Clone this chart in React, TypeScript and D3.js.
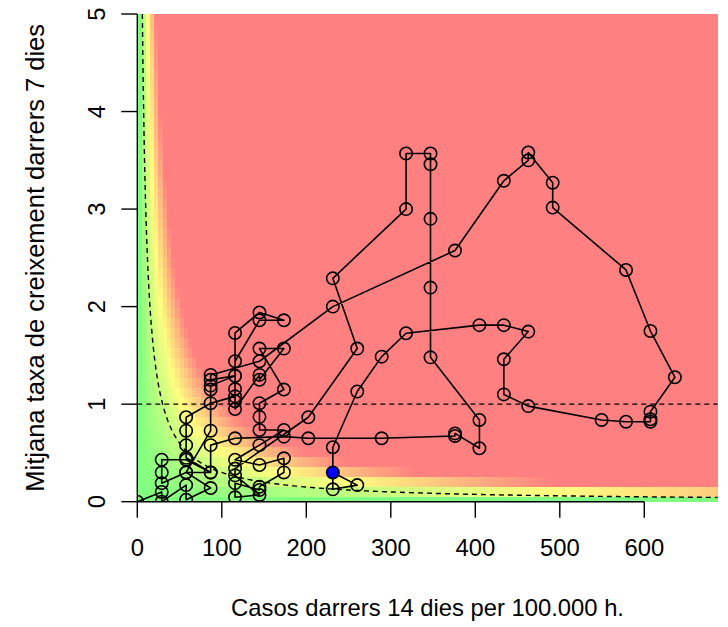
import React from 'react';
import * as d3 from 'd3';

// 14-day incidence per 100,000 inhabitants (x) and mean 7-day growth rate (y), in time order
const incidence14 = [
  0, 28.9, 28.9, 57.8, 57.8, 86.8, 57.8, 28.9, 28.9, 28.9, 57.8, 86.8, 57.8,
  57.8, 57.8, 57.8, 86.8, 115.7, 115.7, 115.7, 144.6, 173.5, 144.6, 115.7, 115.7, 115.7, 115.7,
  144.6, 144.6, 173.5, 144.6, 173.5, 144.6, 144.6, 144.6, 173.5, 144.6, 115.7, 144.6, 173.5, 173.5,
  144.6, 144.6, 115.7, 115.7, 144.6, 115.7, 115.7,
  202.4, 260.3, 231.4, 318.1, 318.1, 347.0, 347.0, 347.0, 347.0, 347.0, 404.9, 404.9, 376.0, 376.0,
  289.2, 202.4, 173.5, 115.7, 86.8, 86.8, 57.8, 86.8,
  86.8, 86.8, 115.7, 86.8, 86.8, 144.6, 231.4, 376.0, 433.8, 462.7, 462.7, 491.6, 491.6, 578.4,
  607.3, 636.2, 607.3, 607.3, 607.3, 578.4, 549.5, 462.7, 433.8, 433.8, 462.7, 433.8, 404.9,
  318.1, 289.2, 260.3, 231.4, 231.4, 260.3, 231.4,
];
const rho7 = [
  0.0, 0.1, 0.0, 0.17, 0.02, 0.14, 0.3, 0.19, 0.3, 0.43, 0.43, 0.3, 0.45,
  0.58, 0.728, 0.866, 1.01, 1.08, 1.29, 1.73, 1.94, 1.86, 1.86, 1.44, 1.155, 1.03, 0.95,
  1.3, 1.25, 1.57, 1.57, 1.15, 1.01, 0.87, 0.735, 0.735, 0.58, 0.43, 0.376, 0.445, 0.3,
  0.154, 0.12, 0.19, 0.045, 0.069, 0.27, 0.34,
  0.866, 1.57, 2.29, 3.0, 3.57, 3.57, 3.46, 2.9, 2.195, 1.48, 0.838, 0.548, 0.7, 0.674,
  0.65, 0.65, 0.667, 0.65, 0.58, 0.3, 0.3, 0.728,
  1.15, 1.19, 1.29, 1.25, 1.3, 1.44, 2.0, 2.575, 3.29, 3.5, 3.58, 3.27, 3.015, 2.376,
  1.75, 1.276, 0.923, 0.845, 0.82, 0.82, 0.838, 0.98, 1.1, 1.46, 1.744, 1.81, 1.81,
  1.727, 1.487, 1.13, 0.558, 0.127, 0.17, 0.3,
];

const xTicks = [0, 100, 200, 300, 400, 500, 600];
const yTicks = [0, 1, 2, 3, 4, 5];
const xMax = 687;
const yMax = 5;
const gridRows = 50; // background rows of the risk image
const gridColWidth = 5; // background cell width (cases per 100.000 h.)
const epgStops = [0, 50, 100];
const epgColors = ['#80FF80', '#FFFF80', '#FF8080'];
const epgThreshold = 30;
const refGrowth = 1;

const FONT = "'Liberation Sans', Arial, Helvetica, sans-serif";

export default function App() {
  const W = 728;
  const H = 627;
  const left = 137.3, right = 717.8, top = 14, bottom = 501.7;
  const x = d3.scaleLinear().domain([0, xMax]).range([left, right]);
  const y = d3.scaleLinear().domain([0, yMax]).range([bottom, top]);
  const color = d3
    .scaleLinear<string>()
    .domain(epgStops)
    .range(epgColors)
    .interpolate(d3.interpolateRgb)
    .clamp(true);
  const zMax = epgStops[epgStops.length - 1];

  const step = yMax / (gridRows - 1);
  const rows = d3.range(gridRows).map((i) => {
    const yc = i * step;
    const y0 = Math.max(0, yc - step / 2);
    const y1 = Math.min(yMax, yc + step / 2);
    const stops: { off: number; col: string }[] = [];
    let xs = 0;
    while (xs < xMax) {
      const z = xs * yc;
      const col = color(z);
      const xe = Math.min(xMax, xs + gridColWidth);
      if (z >= zMax) {
        stops.push({ off: xs / xMax, col });
        stops.push({ off: 1, col });
        break;
      }
      stops.push({ off: xs / xMax, col });
      stops.push({ off: xe / xMax, col });
      xs = xe;
    }
    return { i, yc, y0, y1, stops };
  });

  const curvePts = d3.range(0, 301).map((i) => {
    const xv = (epgThreshold / yMax) * Math.pow(xMax / (epgThreshold / yMax), i / 300);
    return [xv, epgThreshold / xv] as [number, number];
  });
  const curve = d3
    .line<[number, number]>()
    .x((d) => x(d[0]))
    .y((d) => y(d[1]))(curvePts);

  const pts = incidence14.map((v, i) => [v, rho7[i]] as [number, number]);
  const traj = d3
    .line<[number, number]>()
    .x((d) => x(d[0]))
    .y((d) => y(d[1]))(pts);
  const last = pts[pts.length - 1];

  const lw = 1.6;
  const pr = 6.2;

  return (
    <svg
      width={W}
      height={H}
      viewBox={`0 0 ${W} ${H}`}
      style={{ position: 'absolute', left: 0, top: 0, background: '#fff' }}
      fontFamily={FONT}
    >
      <defs>
        <clipPath id="plotclip">
          <rect x={left} y={top} width={right - left} height={bottom - top} />
        </clipPath>
        {rows.map((r) => (
          <linearGradient
            key={r.i}
            id={`row${r.i}`}
            gradientUnits="userSpaceOnUse"
            x1={x(0)}
            x2={x(xMax)}
            y1={0}
            y2={0}
          >
            {r.stops.map((s, j) => (
              <stop key={j} offset={s.off} stopColor={s.col} />
            ))}
          </linearGradient>
        ))}
      </defs>
      <g>
        {rows.map((r) => (
          <rect
            key={r.i}
            x={left}
            y={y(r.y1)}
            width={right - left}
            height={y(r.y0) - y(r.y1) + 0.3}
            fill={`url(#row${r.i})`}
            shapeRendering="crispEdges"
          />
        ))}
      </g>
      <g clipPath="url(#plotclip)">
        <line
          x1={left}
          x2={right}
          y1={y(refGrowth)}
          y2={y(refGrowth)}
          stroke="#000"
          strokeWidth={1.4}
          strokeDasharray="5,4"
        />
        <path d={curve || ''} fill="none" stroke="#000" strokeWidth={1.4} strokeDasharray="5,4" />
        <path d={traj || ''} fill="none" stroke="#000" strokeWidth={lw} strokeLinejoin="round" />
        {pts.slice(0, -1).map((p, i) => (
          <circle key={i} cx={x(p[0])} cy={y(p[1])} r={pr} fill="none" stroke="#000" strokeWidth={lw} />
        ))}
        <circle cx={x(last[0])} cy={y(last[1])} r={pr} fill="#0000FF" stroke="#000" strokeWidth={lw} />
      </g>
      {/* x axis */}
      <g>
        <line x1={x(0)} x2={x(600)} y1={bottom} y2={bottom} stroke="#000" strokeWidth={1.4} />
        {xTicks.map((t) => (
          <g key={t}>
            <line x1={x(t)} x2={x(t)} y1={bottom} y2={bottom + 16} stroke="#000" strokeWidth={1.4} />
            <text x={x(t)} y={547} textAnchor="middle" dominantBaseline="central" fontSize={23.8}>
              {t}
            </text>
          </g>
        ))}
        <text x={(left + right) / 2} y={607} textAnchor="middle" dominantBaseline="central" fontSize={23.8}>
          Casos darrers 14 dies per 100.000 h.
        </text>
      </g>
      {/* y axis */}
      <g>
        <line x1={left} x2={left} y1={y(0)} y2={y(5)} stroke="#000" strokeWidth={1.4} />
        {yTicks.map((t) => (
          <g key={t}>
            <line x1={left} x2={left - 16} y1={y(t)} y2={y(t)} stroke="#000" strokeWidth={1.4} />
            <text
              transform={`translate(96,${y(t)}) rotate(-90)`}
              textAnchor="middle"
              dominantBaseline="central"
              fontSize={23.8}
            >
              {t}
            </text>
          </g>
        ))}
        <text
          transform={`translate(35,${(top + bottom) / 2}) rotate(-90)`}
          textAnchor="middle"
          dominantBaseline="central"
          fontSize={25.5}
        >
          Mitjana taxa de creixement darrers 7 dies
        </text>
      </g>
    </svg>
  );
}
